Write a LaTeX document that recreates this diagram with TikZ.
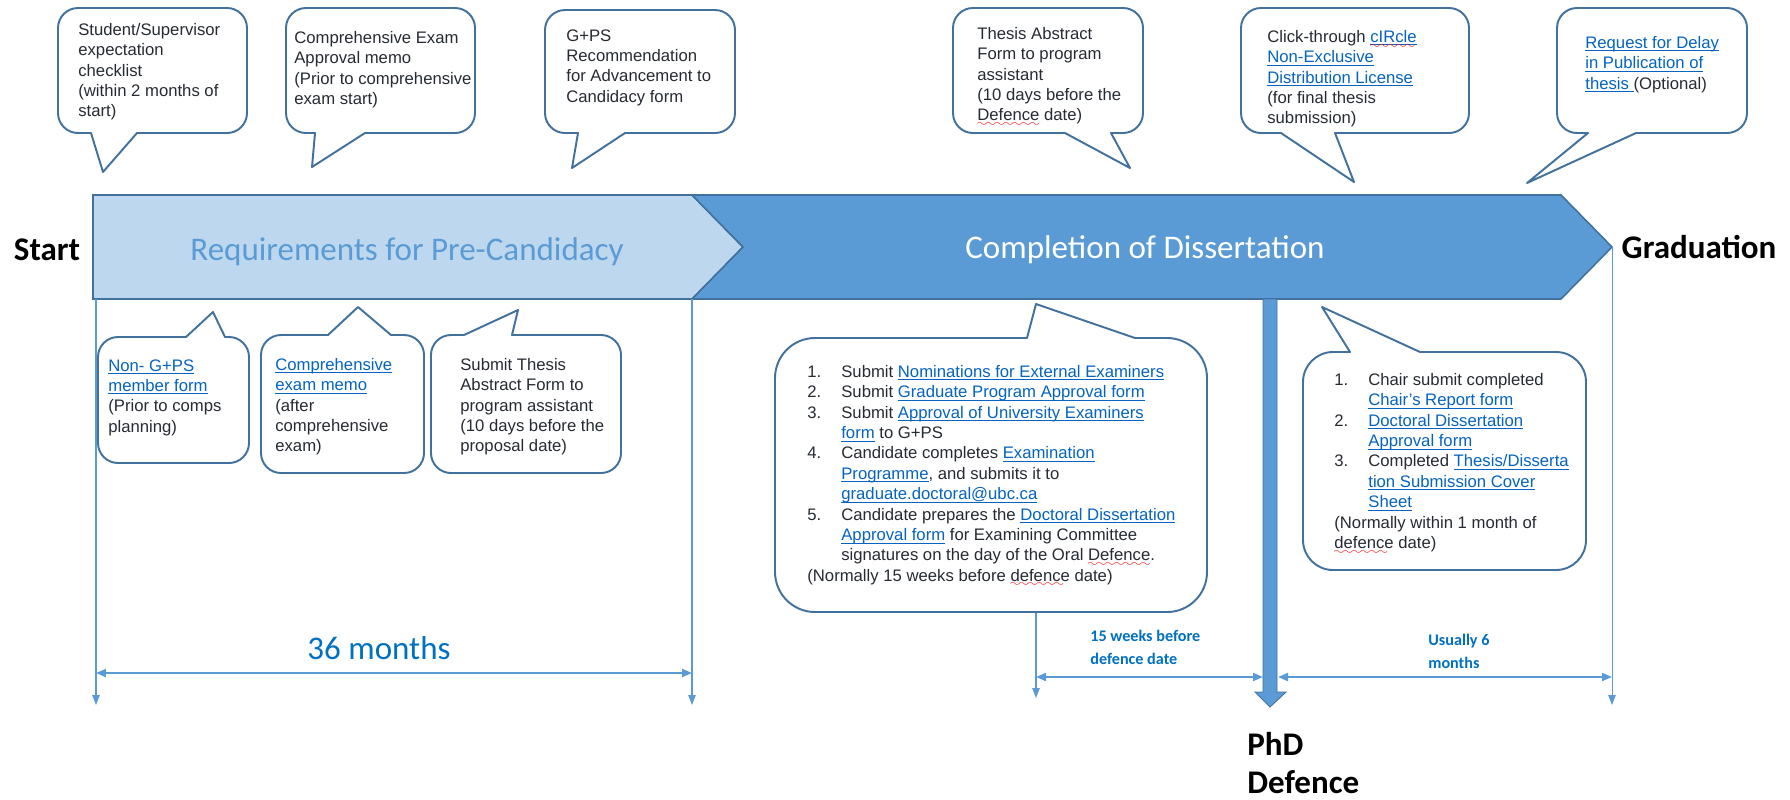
\documentclass[tikz,border=0pt]{standalone}
\usepackage{fontspec}
\setmainfont{Liberation Sans}
\newfontfamily\calibri{Carlito}
\usetikzlibrary{arrows.meta}

\definecolor{lightbar}{HTML}{BDD7EE}
\definecolor{darkbar}{HTML}{5B9BD5}
\definecolor{edgeblue}{HTML}{41719C}
\definecolor{linkblue}{HTML}{0563C1}
\definecolor{dimblue}{HTML}{0070C0}
\definecolor{bodytext}{HTML}{262B33}

\newcommand{\lk}[1]{\textcolor{linkblue}{\setbox0\hbox{#1}\rlap{\rule[-1.6pt]{\wd0}{0.45pt}}\box0\relax}}
\font\sixly=lasy6
\newcommand{\spell}[1]{\setbox0\hbox{#1}\rlap{\lower3.2pt\hbox to \wd0{\color{red}\leaders\hbox{\sixly\char58}\hfill}}\box0\relax}
\newcommand{\itm}[1]{\makebox[0.68cm][l]{#1}}
\newcommand{\ind}{\hspace*{0.68cm}}

\begin{document}
\begin{tikzpicture}[x=0.02cm, y=-0.02cm,
    bubble/.style={draw=edgeblue, line width=1.1pt, fill=white, line join=round},
    bar/.style={draw=edgeblue, line width=0.9pt, line join=miter},
    txt/.style={anchor=north west, inner sep=0pt, align=left, text=bodytext, font=\fontsize{9.5}{11.6}\selectfont},
    bigtxt/.style={anchor=base, inner sep=0pt, font=\calibri\fontsize{18.8}{21.6}\selectfont},
    milestone/.style={anchor=base, inner sep=0pt, align=left, font=\calibri\bfseries\fontsize{18.8}{21.6}\selectfont},
    guide/.style={draw=darkbar, line width=0.6pt, -{Triangle[length=0.2cm, width=0.15cm]}},
    span/.style={draw=darkbar, line width=1.1pt, {Triangle[length=0.2cm, width=0.16cm]}-{Triangle[length=0.2cm, width=0.16cm]}},
    dimtxt/.style={anchor=north west, inner sep=0pt, align=left, text=dimblue, font=\calibri\bfseries\fontsize{9.2}{13}\selectfont}]
    \useasboundingbox (0,0) rectangle (1790,799);

    \draw[bar, fill=lightbar] (93,195) -- (692,195) -- (743,247) -- (692,299) -- (93,299) -- cycle;
    \draw[bar, fill=darkbar] (692,195) -- (1561,195) -- (1612,247) -- (1561,299) -- (692,299) -- (743,247) -- cycle;
    \node[bigtxt, text=darkbar] (req) at (407,260) {Requirements for Pre-Candidacy};
    \node[bigtxt, text=white] (comp) at (1145,258) {Completion of Dissertation};
    \node[milestone] (start) at (47,260) {Start};
    \node[milestone] (grad) at (1699,258) {Graduation};

    \coordinate (startfoot) at (96,299);
    \coordinate (startend) at (96,705);
    \coordinate (reqfoot) at (692,299);
    \coordinate (reqend) at (692,705);
    \coordinate (noticefoot) at (1036,612);
    \coordinate (noticeend) at (1036,698);
    \coordinate (gradfoot) at (1612,247);
    \coordinate (gradend) at (1612,705);
    \draw[guide] (startfoot) -- (startend);
    \draw[guide] (reqfoot) -- (reqend);
    \draw[guide] (noticefoot) -- (noticeend);
    \draw[guide] (gradfoot) -- (gradend);

    \coordinate (m1) at (96,673);
    \coordinate (m2) at (692,673);
    \coordinate (w1) at (1036,677);
    \coordinate (w2) at (1263,677);
    \coordinate (u1) at (1278,677);
    \coordinate (u2) at (1612,677);
    \draw[span] (m1) -- (m2);
    \draw[span] (w1) -- (w2);
    \draw[span] (u1) -- (u2);

    \draw[bar, fill=darkbar, line width=0.5pt] (1263,299) -- (1277,299) -- (1277,692) -- (1286,692) -- (1270,707) -- (1255,692) -- (1263,692) -- cycle;

    \node[bigtxt, text=dimblue] (months) at (379,659) {36 months};
    \node[dimtxt] (weeks) at (1090,630) {15 weeks before\\defence date};
    \node[dimtxt] (usually) at (1428,634) {Usually 6\\months};
    \node[milestone, anchor=north west] (defence) at (1247,732) {PhD\\Defence};

    \draw[bubble] (103,172) -- (137,133) [rounded corners=0.4cm] -- (247,133) -- (247,8) -- (58,8) -- (58,133) [sharp corners] -- (91,133) -- cycle;
    \node[txt] (c1) at (78,23) {Student/Supervisor\\expectation\\checklist\\(within 2 months of\\start)};

    \draw[bubble] (312,167) -- (365,133) [rounded corners=0.4cm] -- (475,133) -- (475,8) -- (286,8) -- (286,133) [sharp corners] -- (315,133) -- cycle;
    \node[txt] (c2) at (294,31) {Comprehensive Exam\\Approval memo\\(Prior to comprehensive\\exam start)};

    \draw[bubble] (572,168) -- (625,133) [rounded corners=0.4cm] -- (735,133) -- (735,10) -- (545,10) -- (545,133) [sharp corners] -- (578,133) -- cycle;
    \node[txt] (c3) at (566,29) {G+PS\\Recommendation\\for Advancement to\\Candidacy form};

    \draw[bubble] (1130,168) -- (1111,133) [rounded corners=0.4cm] -- (1143,133) -- (1143,8) -- (953,8) -- (953,133) [sharp corners] -- (1065,133) -- cycle;
    \node[txt] (c4) at (977,27) {Thesis Abstract\\Form to program\\assistant\\(10 days before the\\\spell{Defence} date)};

    \draw[bubble] (1354,182) -- (1335,133) [rounded corners=0.4cm] -- (1469,133) -- (1469,8) -- (1241,8) -- (1241,133) [sharp corners] -- (1281,133) -- cycle;
    \node[txt] (c5) at (1267,30) {Click-through \lk{\spell{cIRcle}}\\\lk{Non-Exclusive}\\\lk{Distribution License}\\(for final thesis\\submission)};

    \draw[bubble] (1527,183) -- (1636,133) [rounded corners=0.4cm] -- (1747,133) -- (1747,8) -- (1557,8) -- (1557,133) [sharp corners] -- (1588,133) -- cycle;
    \node[txt] (c6) at (1585,36) {\lk{Request for Delay}\\\lk{in Publication of}\\\lk{thesis }(Optional)};

    \draw[bubble] (213,312) -- (186,337) [rounded corners=0.4cm] -- (98,337) -- (98,463) -- (249,463) -- (249,337) [sharp corners] -- (225,337) -- cycle;
    \node[txt] (b1) at (108,359) {\lk{Non- G+PS}\\\lk{member form}\\(Prior to comps\\planning)};

    \draw[bubble] (358,307) -- (328,335) [rounded corners=0.4cm] -- (261,335) -- (261,473) -- (424,473) -- (424,335) [sharp corners] -- (391,335) -- cycle;
    \node[txt] (b2) at (275,358) {\lk{Comprehensive}\\\lk{exam memo}\\(after\\comprehensive\\exam)};

    \draw[bubble] (518,310) -- (464,335) [rounded corners=0.4cm] -- (431,335) -- (431,473) -- (621,473) -- (621,335) [sharp corners] -- (512,335) -- cycle;
    \node[txt] (b3) at (460,358) {Submit Thesis\\Abstract Form to\\program assistant\\(10 days before the\\proposal date)};

    \draw[bubble] (1036,304) -- (1027,338) [rounded corners=0.8cm] -- (775,338) -- (775,612) -- (1207,612) -- (1207,338) [sharp corners] -- (1135,338) -- cycle;
    \node[txt] (b4) at (807,365) {\itm{1.}Submit \lk{Nominations for External Examiners}\\
        \itm{2.}Submit \lk{Graduate Program Approval form}\\
        \itm{3.}Submit \lk{Approval of University Examiners}\\
        \ind\lk{form} to G+PS\\
        \itm{4.}Candidate completes \lk{Examination}\\
        \ind\lk{Programme}, and submits it to\\
        \ind\lk{graduate.doctoral@ubc.ca}\\
        \itm{5.}Candidate prepares the \lk{Doctoral Dissertation}\\
        \ind\lk{Approval form} for Examining Committee\\
        \ind signatures on the day of the Oral \spell{Defence}.\\
        (Normally 15 weeks before \spell{defence} date)};

    \draw[bubble] (1322,307) -- (1350,352) [rounded corners=0.6cm] -- (1303,352) -- (1303,570) -- (1586,570) -- (1586,352) [sharp corners] -- (1420,352) -- cycle;
    \node[txt] (b5) at (1334,373) {\itm{1.}Chair submit completed\\
        \ind\lk{Chair's Report form}\\
        \itm{2.}\lk{Doctoral Dissertation}\\
        \ind\lk{Approval form}\\
        \itm{3.}Completed \lk{Thesis/Disserta}\\
        \ind\lk{tion Submission Cover}\\
        \ind\lk{Sheet}\\
        (Normally within 1 month of\\
        \spell{defence} date)};
\end{tikzpicture}
\end{document}
